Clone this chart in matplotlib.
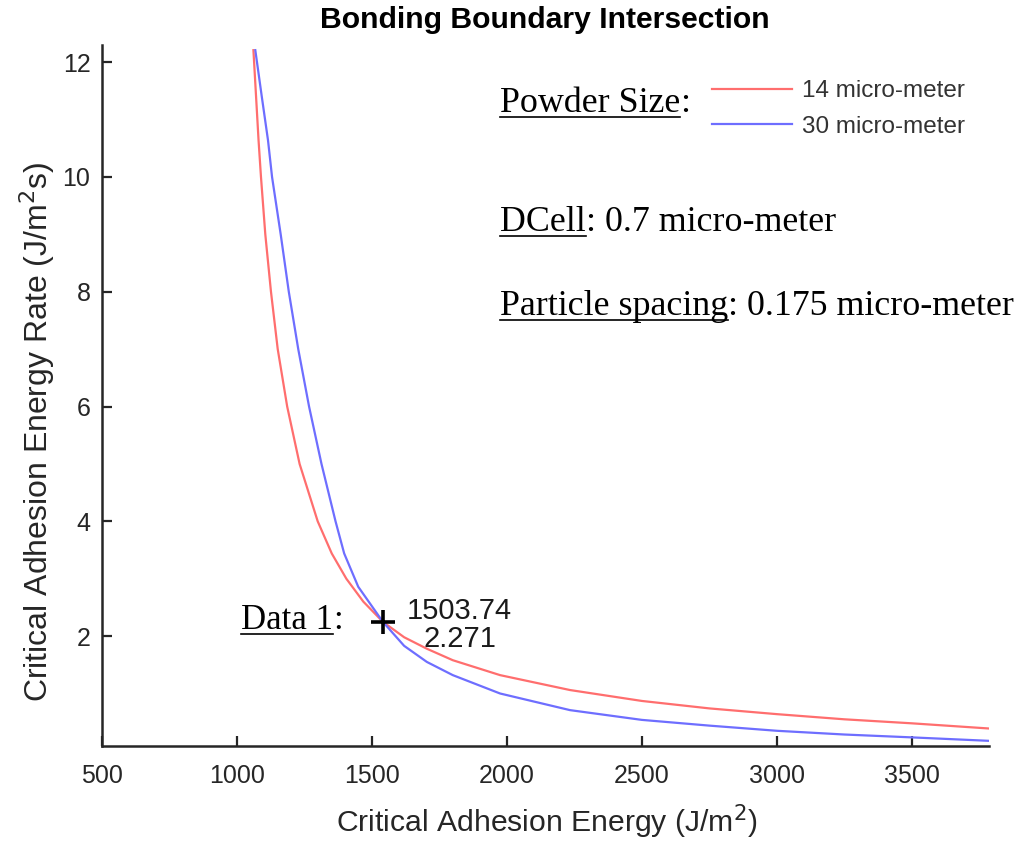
import matplotlib.pyplot as plt

# values
red_x = [1062, 1081, 1090, 1106, 1127, 1152, 1187, 1233, 1300, 1352, 1406, 1469, 1541,
         1620, 1704, 1800, 1975, 2234, 2500, 2750, 3000, 3250, 3500, 3785]
red_y = [12.21, 10.64, 10.0, 9.0, 8.0, 7.0, 6.0, 5.0, 4.0, 3.44, 3.0, 2.6, 2.25,
         1.98, 1.78, 1.58, 1.32, 1.06, 0.87, 0.74, 0.64, 0.55, 0.48, 0.39]
blue_x = [1069, 1093, 1116, 1131, 1163, 1193, 1228, 1268, 1314, 1366, 1398, 1450, 1541,
          1620, 1704, 1800, 1975, 2234, 2500, 2750, 3000, 3250, 3500, 3785]
blue_y = [12.21, 11.4, 10.64, 10.0, 9.0, 8.0, 7.0, 6.0, 5.0, 4.0, 3.44, 2.86, 2.25,
          1.83, 1.55, 1.32, 1.00, 0.71, 0.54, 0.44, 0.35, 0.285, 0.235, 0.175]
series_labels = ["14 micro-meter", "30 micro-meter"]
point_x, point_y = 1541, 2.25
point_text = "1503.74\n2.271"
x_ticks = [500, 1000, 1500, 2000, 2500, 3000, 3500]
y_ticks = [2, 4, 6, 8, 10, 12]

W, H = 1021, 841
dark = "#262626"
serif = "Liberation Serif"
sans = "Liberation Sans"

fig = plt.figure(figsize=(W / 100, H / 100), dpi=100)
ax = fig.add_axes([101.6 / W, 95 / H, 887.4 / W, 701 / H])

ax.plot(red_x, red_y, color="#ff6e6e", lw=1.6, label=series_labels[0])
ax.plot(blue_x, blue_y, color="#6e6eff", lw=1.6, label=series_labels[1])
ax.plot(point_x, point_y, marker="+", color="black", ms=17, mew=2.6)

ax.set_xlim(500, 3785)
ax.set_ylim(0.085, 12.3)
ax.set_xticks(x_ticks)
ax.set_yticks(y_ticks)
for side in ["top", "right"]:
    ax.spines[side].set_visible(False)
for side in ["left", "bottom"]:
    ax.spines[side].set_linewidth(1.8)
    ax.spines[side].set_color(dark)
ax.tick_params(direction="in", length=7, width=1.6, color=dark,
               labelsize=18, labelcolor=dark)
ax.tick_params(axis="x", pad=13)
ax.tick_params(axis="y", pad=8)
for lab in ax.get_xticklabels() + ax.get_yticklabels():
    lab.set_family(sans)

ax.set_title("Bonding Boundary Intersection", fontsize=21.7, fontweight="bold",
             family=sans, pad=12)
ax.set_xlabel("Critical Adhesion Energy (J/m$^2$)", fontsize=21.7, family=sans, color=dark)
ax.set_ylabel("Critical Adhesion Energy Rate (J/m$^2$s)", fontsize=23, family=sans, color=dark)
ax.xaxis.set_label_coords(0.502, -0.081)
ax.yaxis.set_label_coords(-0.05, 0.448)

leg = ax.legend(loc="upper left", bbox_to_anchor=(700 / W, 1 - 68 / H),
                bbox_transform=fig.transFigure, frameon=False,
                handlelength=3.3, handletextpad=0.4, labelspacing=0.55,
                borderpad=0, prop={"family": sans, "size": 17.5})
for t in leg.get_texts():
    t.set_color("#333333")

ax.text(point_x + 285, 2.19, point_text, fontsize=21, family=sans,
        ha="center", va="center", linespacing=1.0, color="#1a1a1a")

renderer = fig.canvas.get_renderer()


def underlined(px, py, head, tail, size=25.8):
    x, y = px / W, 1 - py / H
    t = fig.text(x, y, head, fontsize=size, family=serif, va="baseline")
    bb = t.get_window_extent(renderer).transformed(fig.transFigure.inverted())
    ly = y - 5 / H
    fig.add_artist(plt.Line2D([bb.x0, bb.x1], [ly, ly], color="black", lw=1.2,
                              transform=fig.transFigure))
    fig.text(bb.x1, y, tail, fontsize=size, family=serif, va="baseline")


underlined(500, 112, "Powder Size", ":")
underlined(500, 231, "DCell", ": 0.7 micro-meter")
underlined(500, 315, "Particle spacing", ": 0.175 micro-meter")
underlined(241, 629, "Data 1", ":", size=25)

fig.savefig("out.png", dpi=100)
